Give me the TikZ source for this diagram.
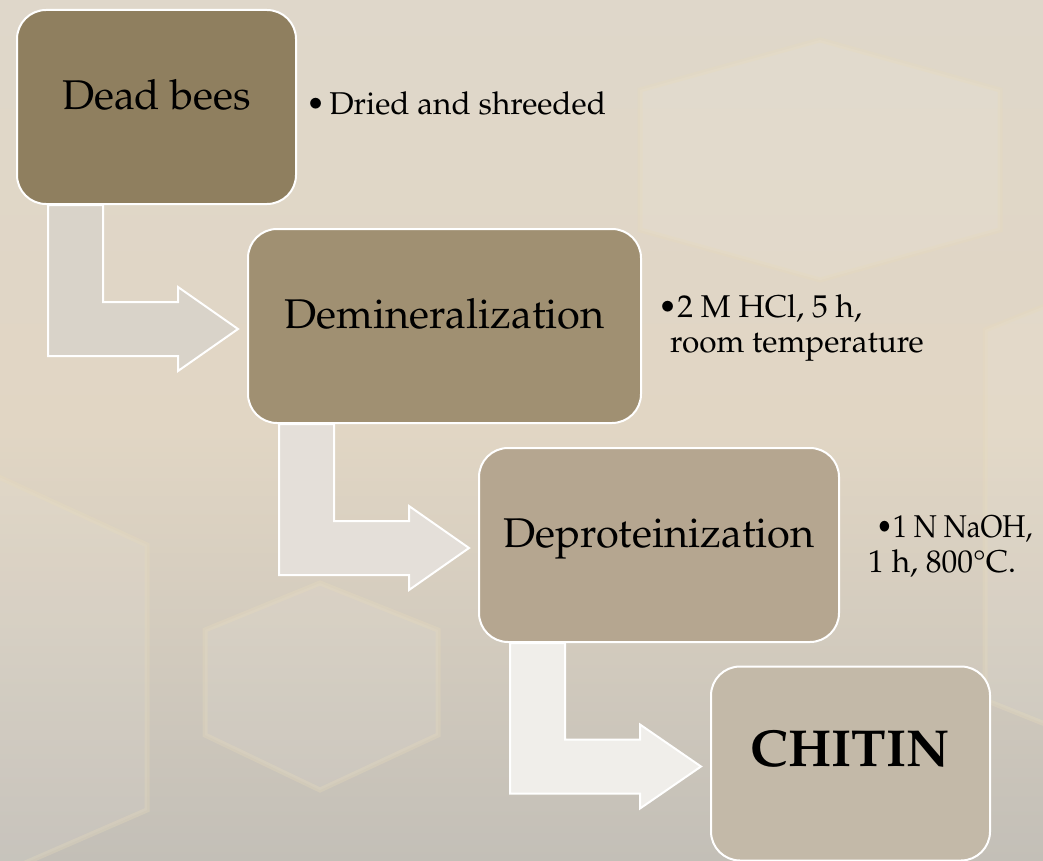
\documentclass[tikz,border=0pt]{standalone}
\usepackage[T1]{fontenc}
\usepackage{textcomp}
\usepackage{graphicx}
\renewcommand{\rmdefault}{ppl}
\usetikzlibrary{calc}
\definecolor{bgtop}{HTML}{DFD7CA}
\definecolor{bgmid}{HTML}{E1D6C4}
\definecolor{bgbot}{HTML}{C3BFB7}
\definecolor{hexline}{HTML}{E8DCBC}
\definecolor{cA}{HTML}{8F7F5F}
\definecolor{cB}{HTML}{A09072}
\definecolor{cC}{HTML}{B5A690}
\definecolor{cD}{HTML}{C3B9A8}
\definecolor{aA}{HTML}{D9D3C9}
\definecolor{aB}{HTML}{E4DFD9}
\definecolor{aC}{HTML}{F0EEEA}
\newcommand\bentarrow[3]{%
  \draw[bent, fill=#3] let \p1=(#1.south west), \p2=(#2.west) in
    (\x1+32pt,\y1) -- (\x1+87pt,\y1) -- (\x1+87pt,\y2+24pt)
    -- (\x1+162pt,\y2+24pt) -- (\x1+162pt,\y2+39pt) -- (\x2-9pt,\y2-3pt)
    -- (\x1+162pt,\y2-45pt) -- (\x1+162pt,\y2-30pt) -- (\x1+32pt,\y2-30pt) -- cycle;}
\begin{document}
\begin{tikzpicture}[x=1pt,y=-1pt,
  stepbox/.style={draw=white, line width=2pt, rounded corners=29pt,
    minimum height=194pt, inner sep=0pt, text height=0.7em, text depth=0.2em,
    font=\fontsize{41.5}{50}\selectfont},
  note/.style={anchor=base west, inner sep=0pt, font=\fontsize{31.5}{35}\selectfont},
  bent/.style={draw=white, line width=2pt, line join=miter},
  hexa/.style={fill=white, fill opacity=0.08, draw=hexline, draw opacity=0.3, line width=5pt}]
% background
\fill[top color=bgtop, bottom color=bgbot, middle color=bgmid] (0,0) rectangle (1043,861);
\useasboundingbox (0,0) rectangle (1043,861);
\path[hexa] (-60,450) -- (147,545) -- (147,810) -- (-60,900) -- cycle;
\path[hexa] (320,583) -- (438,630) -- (438,735) -- (320,790) -- (205,735) -- (205,630) -- cycle;
\path[hexa] (640,90) -- (820,40) -- (1000,90) -- (1000,230) -- (820,280) -- (640,230) -- cycle;
\path[hexa] (1110,280) -- (985,330) -- (985,700) -- (1110,750) -- cycle;
% steps
\node[stepbox, fill=cA, minimum width=279pt] (b1) at (156.5,107) {Dead bees};
\node[stepbox, fill=cB, minimum width=393pt] (b2) at (444.5,326) {Demineralization};
\node[stepbox, fill=cC, minimum width=360pt] (b3) at (659,545) {Deproteinization};
\node[stepbox, fill=cD, minimum width=279pt, font=\fontsize{52}{60}\bfseries\selectfont] (b4) at (850.5,763.5) {CHITIN};
% notes
\node[note] (n1) at (306,115) {\textbullet\kern4pt Dried and shreeded};
\node[note] (n2a) at (658,317) {\textbullet 2 M HCl, 5 h,};
\node[note] (n2b) at (670,352) {room temperature};
\node[note] (n3a) at (876,537) {\scalebox{0.88}[1]{\textbullet 1 N NaOH,}};
\node[note] (n3b) at (868,572) {1 h, 800\textdegree C.};
% bent arrows
\bentarrow{b1}{b2}{aA}
\bentarrow{b2}{b3}{aB}
\bentarrow{b3}{b4}{aC}
\end{tikzpicture}
\end{document}
